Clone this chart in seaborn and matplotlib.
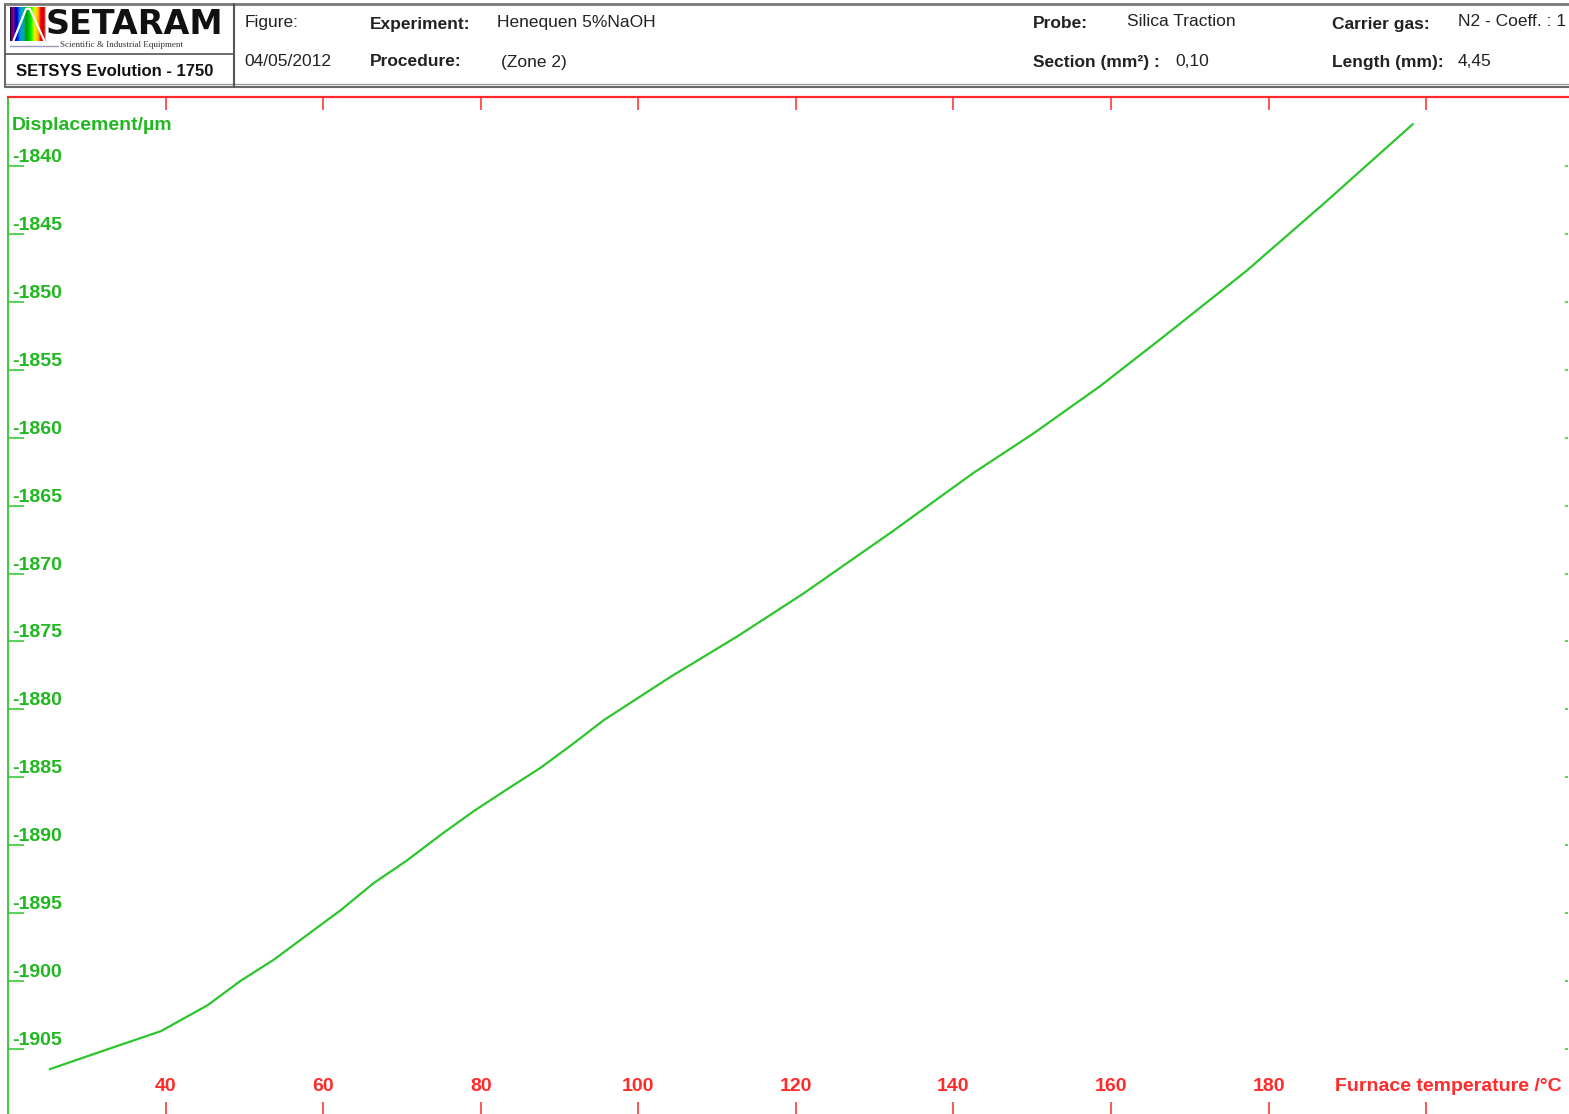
import numpy as np
import pandas as pd
import matplotlib
matplotlib.use("Agg")
import matplotlib.pyplot as plt
import matplotlib.lines as mlines
import seaborn as sns

# Dilatometry run: furnace temperature (°C) vs. probe displacement (µm)
temperature_c = [25.3, 31.8, 39.4, 45.3, 49.5, 53.7, 58.0, 62.2, 66.4, 70.7,
                 74.9, 79.1, 83.3, 87.6, 91.8, 95.6, 104.1, 112.5, 121.0,
                 132.0, 142.5, 150.1, 158.6, 167.0, 177.2, 187.3, 198.3]
displacement_um = [-1906.5, -1905.2, -1903.7, -1901.8, -1900.0, -1898.45,
                   -1896.6, -1894.8, -1892.8, -1891.1, -1889.25, -1887.5,
                   -1885.9, -1884.3, -1882.5, -1880.8, -1877.6, -1874.65,
                   -1871.45, -1867.0, -1862.6, -1859.7, -1856.2, -1852.4,
                   -1847.7, -1842.6, -1836.9]

x_ticks = [40, 60, 80, 100, 120, 140, 160, 180, 200]
x_labels = ["40", "60", "80", "100", "120", "140", "160", "180"]
y_ticks = [-1840, -1845, -1850, -1855, -1860, -1865, -1870, -1875,
           -1880, -1885, -1890, -1895, -1900, -1905]

GREEN = "#2cc52c"
GREEN_TXT = "#1fb81f"
RED = "#ff2a2a"
FONT = ["Liberation Sans", "DejaVu Sans"]
NARROW = ["Liberation Sans Narrow", "Liberation Sans", "DejaVu Sans"]

sns.set_theme(style="white")
plt.rcParams["font.family"] = FONT

W, H = 1569, 1114
fig = plt.figure(figsize=(W / 100, H / 100), dpi=100)
fig.patch.set_facecolor("white")

ax_top_px = 97
ax = fig.add_axes([8 / W, 0, 1560 / W, (H - ax_top_px) / H])
ax.set_facecolor("white")

df = pd.DataFrame({"T": temperature_c, "D": displacement_um})
sns.lineplot(data=df, x="T", y="D", ax=ax, color=GREEN, linewidth=1.6,
             sort=False, estimator=None)

ax.set_xlim(20, 218)
ax.set_ylim(-1909.8, -1834.9)
ax.set_xlabel("")
ax.set_ylabel("")

# spines
for side in ("bottom", "right"):
    ax.spines[side].set_visible(False)
ax.spines["top"].set_color(RED)
ax.spines["top"].set_linewidth(1.6)
ax.spines["left"].set_color(GREEN)
ax.spines["left"].set_linewidth(1.3)

# x ticks: top and bottom, pointing inward, labels drawn separately
ax.set_xticks(x_ticks)
ax.tick_params(axis="x", which="major", top=True, bottom=True,
               labeltop=False, labelbottom=False, direction="in",
               length=9, width=1.1, color=RED)
# y ticks: left (long) and right (short), labels drawn separately
ax.set_yticks(y_ticks)
ax.tick_params(axis="y", which="major", left=True, right=True,
               labelleft=False, labelright=False, direction="in",
               length=11.5, width=1.1, color=GREEN)
for t in ax.yaxis.get_major_ticks():
    t.tick2line.set_markersize(2.5)
ax.grid(False)

# y tick labels sit just above each tick, at the left edge
for v in y_ticks:
    ax.annotate(str(v), xy=(0, v), xycoords=("axes fraction", "data"),
                xytext=(4, 4), textcoords="offset pixels",
                ha="left", va="baseline", fontsize=14, fontweight="bold",
                color=GREEN_TXT, family=FONT)
ax.annotate("Displacement/µm", xy=(0, 1), xycoords="axes fraction",
            xytext=(4, -33), textcoords="offset pixels",
            ha="left", va="baseline", fontsize=14, fontweight="bold",
            color=GREEN_TXT, family=FONT)

# x tick labels inside the frame, near the bottom
for v, lab in zip(x_ticks, x_labels):
    ax.annotate(lab, xy=(v, 0), xycoords=("data", "axes fraction"),
                xytext=(0, 23), textcoords="offset pixels",
                ha="center", va="baseline", fontsize=14, fontweight="bold",
                color=RED, family=FONT)
ax.annotate("Furnace temperature /°C", xy=(1, 0), xycoords="axes fraction",
            xytext=(-6, 23), textcoords="offset pixels",
            ha="right", va="baseline", fontsize=14, fontweight="bold",
            color=RED, family=FONT)

# ---- header block ----
def fx(px):
    return px / W


def fy(py):
    return 1 - py / H


def hline(x0, x1, y, color="#8a8a8a", lw=1.5):
    fig.add_artist(mlines.Line2D([fx(x0), fx(x1)], [fy(y), fy(y)],
                                 color=color, lw=lw))


def vline(x, y0, y1, color="#8a8a8a", lw=1.5):
    fig.add_artist(mlines.Line2D([fx(x), fx(x)], [fy(y0), fy(y1)],
                                 color=color, lw=lw))


hline(5, W, 4, color="#7a7a7a", lw=2)
hline(5, W, 84, color="#9a9a9a", lw=1)
hline(5, W, 87, color="#6a6a6a", lw=1.5)
vline(5, 4, 87, color="#6a6a6a", lw=1.5)
vline(234, 4, 87, color="#555555", lw=1.5)
hline(5, 234, 54, color="#555555", lw=1.2)

# logo: spectral square with a white peak and the company name
logo_ax = fig.add_axes([fx(10), fy(41), fx(36), (41 - 7) / H])
grad = np.linspace(0, 1, 200)[None, :]
logo_ax.imshow(np.vstack([grad] * 10), aspect="auto", cmap="nipy_spectral",
               extent=[0, 1, 0, 1])
logo_ax.plot([0.1, 0.45, 0.55, 0.95], [0.02, 0.95, 0.95, 0.02], color="white",
             lw=1.6)
logo_ax.set_xlim(0, 1)
logo_ax.set_ylim(0, 1)
logo_ax.axis("off")

fig.text(fx(46), fy(24), "SETARAM", fontsize=24, fontweight="heavy",
         family=["DejaVu Sans"], color="#111111", ha="left", va="center")
fig.text(fx(60), fy(45), "Scientific & Industrial Equipment", fontsize=6.5,
         family=["Liberation Serif", "DejaVu Serif"], color="#333333",
         ha="left", va="center")
hline(10, 58, 46, color="#9999bb", lw=1)
fig.text(fx(16), fy(72), "SETSYS Evolution - 1750", fontsize=12,
         fontweight="bold", family=FONT, color="#111111", ha="left",
         va="center")

header = [
    (245, 22, "Figure:", "normal"),
    (244, 62, "04/05/2012", "normal"),
    (370, 24, "Experiment:", "bold"),
    (497, 22, "Henequen 5%NaOH", "normal"),
    (370, 62, "Procedure:", "bold"),
    (501, 62, "(Zone 2)", "normal"),
    (1033, 24, "Probe:", "bold"),
    (1127, 22, "Silica Traction", "normal"),
    (1033, 62, "Section (mm²) :", "bold"),
    (1175, 62, "0,10", "normal"),
    (1332, 24, "Carrier gas:", "bold"),
    (1458, 22, "N2 - Coeff. : 1", "normal"),
    (1332, 62, "Length (mm):", "bold"),
    (1458, 62, "4,45", "normal"),
]
for x, y, s, w in header:
    fig.text(fx(x), fy(y), s, fontsize=12.5, fontweight=w, family=NARROW,
             color="#222222", ha="left", va="center")

fig.savefig("out.png", dpi=100, facecolor="white")
